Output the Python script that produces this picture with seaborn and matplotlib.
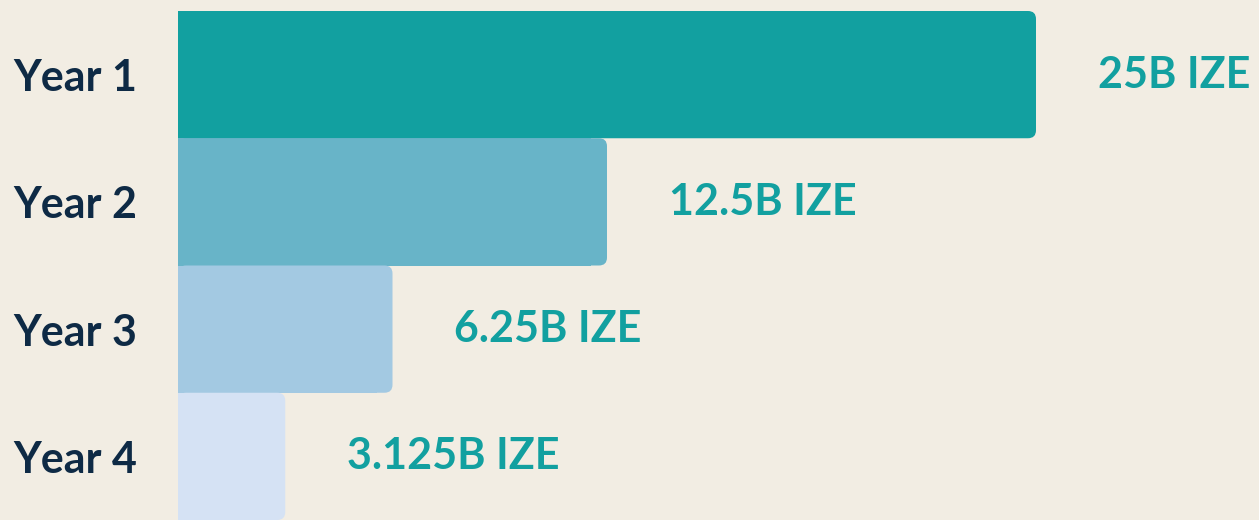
import matplotlib
matplotlib.use("Agg")
import matplotlib.pyplot as plt
import seaborn as sns
import pandas as pd
from matplotlib.patches import FancyBboxPatch

# data
years = ["Year 1", "Year 2", "Year 3", "Year 4"]
values = [25, 12.5, 6.25, 3.125]
value_labels = ["25B IZE", "12.5B IZE", "6.25B IZE", "3.125B IZE"]
bar_colors = ["#12A0A0", "#68B4C8", "#A3C9E2", "#D5E2F4"]

bg = "#F2EDE3"
navy = "#0E2A45"
teal = "#12A0A0"

sns.set_theme(style="white")
plt.rcParams['font.family'] = ['Lato', 'DejaVu Sans']

df = pd.DataFrame({"year": years, "value": values})

fig = plt.figure(figsize=(12.59, 5.2), dpi=100, facecolor=bg)
ax = fig.add_axes([178 / 1259, 0, 1 - 178 / 1259, 509 / 520])
ax.set_facecolor(bg)

sns.barplot(data=df, x="value", y="year", hue="year", palette=bar_colors,
            orient="h", width=1.0, legend=False, saturation=1, ax=ax)

xmax = max(values) * 1081 / 858
ax.set_xlim(0, xmax)
ax.set_ylim(3.5, -0.5)

# rounded right corners: shorten the square bar, overlay a rounded one
px_x = xmax / 1081
px_y = 4 / 509
rad = 8 * px_x
for p, c in zip(ax.patches, bar_colors):
    x0, y0, w, h = p.get_x(), p.get_y(), p.get_width(), p.get_height()
    p.set_width(w - 2 * rad)
    p.set_edgecolor("none")
    rb = FancyBboxPatch((x0, y0), w, h,
                        boxstyle=f"round,pad=0,rounding_size={rad}",
                        mutation_aspect=px_y / px_x,
                        facecolor=c, edgecolor="none", zorder=p.get_zorder())
    ax.add_patch(rb)

for i, (v, lab) in enumerate(zip(values, value_labels)):
    ax.text(v + 62 * px_x, i, lab, color=teal, fontsize=31, fontweight="bold",
            va="center", ha="left")

ax.set_xlabel("")
ax.set_ylabel("")
ax.set_xticks([])
ax.tick_params(axis="y", length=0, pad=29.5)
for t in ax.get_yticklabels():
    t.set_fontsize(31)
    t.set_fontweight("bold")
    t.set_color(navy)
sns.despine(ax=ax, left=True, bottom=True)

fig.savefig("out.png", dpi=100, facecolor=bg)
